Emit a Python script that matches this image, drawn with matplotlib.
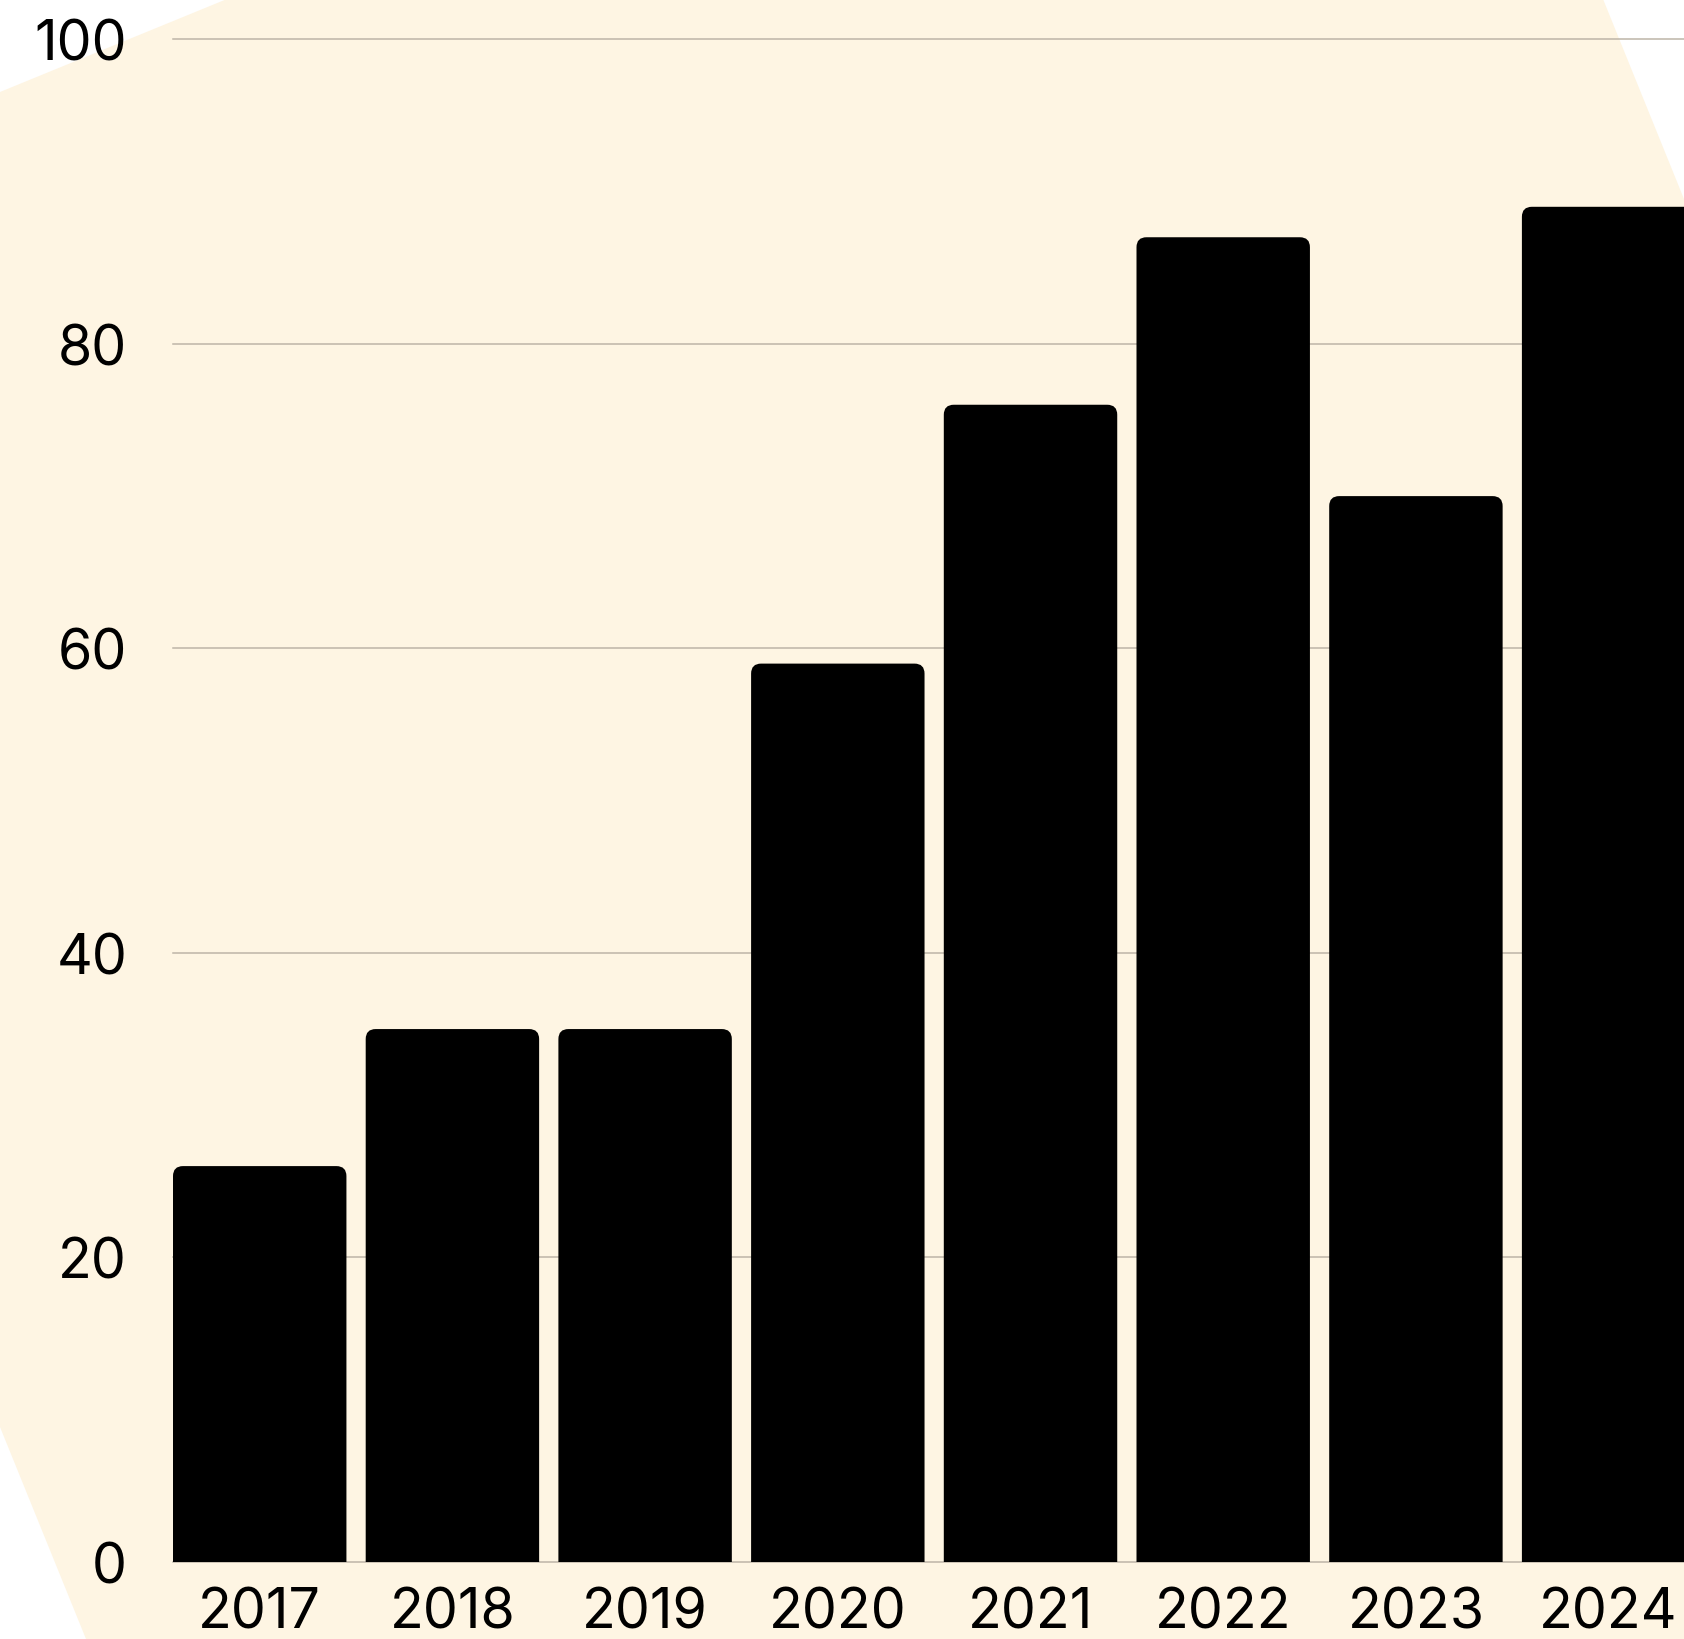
import matplotlib
matplotlib.use("Agg")
import matplotlib.pyplot as plt
from matplotlib.patches import PathPatch, Polygon
from matplotlib.path import Path

years = ["2017", "2018", "2019", "2020", "2021", "2022", "2023", "2024"]
values = [26, 35, 35, 59, 76, 87, 70, 89]
yticks = [0, 20, 40, 60, 80, 100]

W, H, DPI = 1684, 1640, 100
CREAM = "#FEF5E3"
GRID = "#BDB5A8"

plt.rcParams["font.family"] = ["Inter", "DejaVu Sans"]

fig = plt.figure(figsize=(W / DPI, H / DPI), dpi=DPI)
fig.patch.set_facecolor("white")

# decorative backdrop shape (pixel coords, y from top)
shape_px = [(0, 93), (227, 0), (1603, 0), (1684, 200), (1684, 1640), (86, 1640), (0, 1428)]
fig.add_artist(Polygon([(x / W, 1 - y / H) for x, y in shape_px], closed=True,
                       transform=fig.transFigure, facecolor=CREAM, edgecolor="none", zorder=0))

left, right = 173, 1684
y0_px, y100_px = 1563, 40.3
ax = fig.add_axes([left / W, 1 - y0_px / H, (right - left) / W, (y0_px - y100_px) / H])
ax.set_facecolor("none")

pitch = 192.7
x = list(range(len(years)))
ax.set_xlim(-0.45, -0.45 + (right - left) / pitch)
ax.set_ylim(0, 100)

bars = ax.bar(x, values, width=0.9, color="black", zorder=2)

# swap each bar for one with rounded top corners
radius_px = 10
rx = radius_px / pitch
ry = radius_px / ((y0_px - y100_px) / 100)
for b in bars:
    x0, w, h = b.get_x(), b.get_width(), b.get_height()
    x1 = x0 + w
    b.set_visible(False)
    verts = [(x0, 0), (x0, h - ry), (x0, h), (x0 + rx, h), (x1 - rx, h),
             (x1, h), (x1, h - ry), (x1, 0), (x0, 0)]
    codes = [Path.MOVETO, Path.LINETO, Path.CURVE3, Path.CURVE3, Path.LINETO,
             Path.CURVE3, Path.CURVE3, Path.LINETO, Path.CLOSEPOLY]
    ax.add_patch(PathPatch(Path(verts, codes), facecolor="black", edgecolor="none", zorder=2))

ax.set_yticks(yticks)
ax.set_xticks(x)
ax.set_xticklabels(years)
ax.grid(axis="y", color=GRID, linewidth=1.1)
ax.grid(axis="x", visible=False)
ax.set_axisbelow(True)
for gl in ax.get_ygridlines():
    gl.set_clip_on(False)
for s in ax.spines.values():
    s.set_visible(False)
ax.tick_params(axis="both", length=0, labelsize=40, colors="#000000")
ax.tick_params(axis="y", pad=33)
ax.tick_params(axis="x", pad=18)

fig.savefig("out.png", dpi=DPI)
